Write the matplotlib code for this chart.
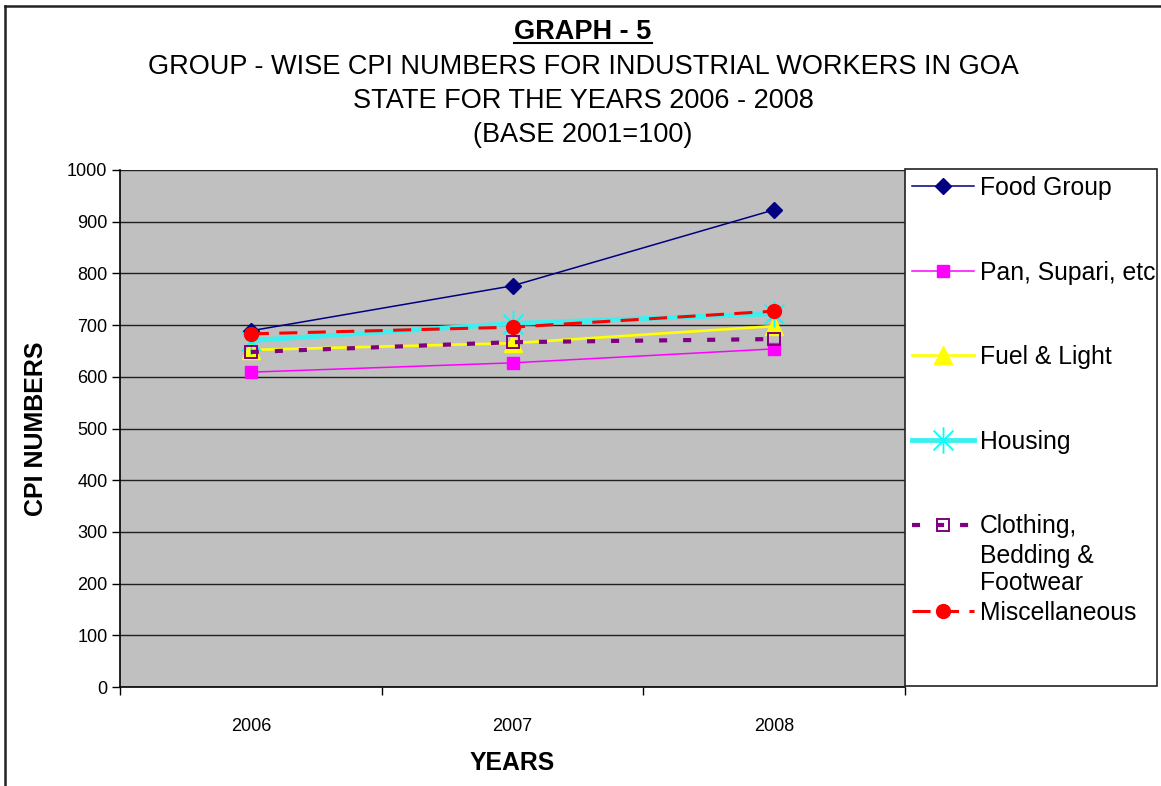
import matplotlib
matplotlib.use("Agg")
import matplotlib.pyplot as plt
from matplotlib.lines import Line2D
from matplotlib.patches import Rectangle
from matplotlib.path import Path

plt.rcParams['font.family'] = ['Liberation Sans', 'DejaVu Sans']
plt.rcParams['lines.scale_dashes'] = False

years = ['2006', '2007', '2008']
food = [689, 776, 923]
pan_supari = [609, 627, 654]
fuel_light = [652, 665, 698]
housing = [670, 703, 722]
clothing = [648, 667, 673]
misc = [683, 696, 727]

series_names = ['Food Group', 'Pan, Supari, etc', 'Fuel & Light', 'Housing',
                'Clothing,', 'Miscellaneous']
clothing_rest = 'Bedding &\nFootwear'

W, H = 1161, 786
fig = plt.figure(figsize=(W / 100, H / 100), dpi=100)

def fx(px):
    return px / W

def fy(py):
    return 1 - py / H

ax = fig.add_axes([fx(120), fy(687), fx(905) - fx(120), fy(170) - fy(687)])
ax.set_facecolor('#C0C0C0')

x = list(range(len(years)))

star = Path([(0, -1), (0, 1), (-0.75, -0.75), (0.75, 0.75), (-0.75, 0.75), (0.75, -0.75)],
            [Path.MOVETO, Path.LINETO, Path.MOVETO, Path.LINETO, Path.MOVETO, Path.LINETO])

h_food, = ax.plot(x, food, color='#000080', lw=1.1, marker='D', ms=7.8,
                  mfc='#000080', mec='#000080', zorder=3)
h_pan, = ax.plot(x, pan_supari, color='#FF00FF', lw=1.1, marker='s', ms=9,
                 mfc='#FF00FF', mec='#FF00FF', zorder=3)
h_fuel, = ax.plot(x, fuel_light, color='#FFFF00', lw=1.9, marker='^', ms=13,
                  mfc='#FFFF00', mec='#FFFF00', zorder=3)
h_house, = ax.plot(x, housing, color='#3CF0F0', lw=3.5, marker=star, ms=19,
                   mec='#00FFFF', mew=1.3, zorder=3)
h_cloth, = ax.plot(x, clothing, color='#800080', lw=3.0, dashes=(5.8, 11.5),
                   marker='s', ms=8.5, mfc='none', mec='#800080', mew=1.4, zorder=3)
h_misc, = ax.plot(x, misc, color='#FF0000', lw=2.2, dashes=(13, 7.5),
                  marker='o', ms=10, mfc='#FF0000', mec='#FF0000', zorder=3)

ax.set_xlim(-0.5, len(years) - 0.5)
ax.set_ylim(0, 1000)
ax.set_yticks(range(0, 1001, 100))
ax.yaxis.grid(True, color='#202020', lw=1.0)
ax.set_axisbelow(True)
ax.set_xticks([i - 0.5 for i in range(len(years) + 1)])
ax.set_xticklabels([])
ax.set_xticks(x, minor=True)
ax.set_xticklabels(years, minor=True)
ax.tick_params(axis='x', which='major', direction='out', length=6, width=1, color='black')
ax.tick_params(axis='x', which='minor', length=0, pad=22, labelsize=13)
ax.tick_params(axis='y', direction='out', length=6, width=1, labelsize=13, pad=3)
for s in ['top', 'right']:
    ax.spines[s].set_visible(False)
for s in ['left', 'bottom']:
    ax.spines[s].set_color('black')
    ax.spines[s].set_linewidth(1.2)

ax.set_xlabel('YEARS', fontsize=17.8, fontweight='bold', labelpad=12)
ax.set_ylabel('CPI NUMBERS', fontsize=18, fontweight='bold', labelpad=14)

# titles
TS = 19.5
t1 = fig.text(fx(583), fy(32), 'GRAPH - 5', ha='center', va='center',
              fontsize=TS, fontweight='bold')
fig.text(fx(583), fy(67), 'GROUP - WISE CPI NUMBERS FOR INDUSTRIAL WORKERS IN GOA',
         ha='center', va='center', fontsize=TS)
fig.text(fx(583), fy(101), 'STATE FOR THE YEARS 2006 - 2008', ha='center', va='center',
         fontsize=TS)
fig.text(fx(583), fy(135), '(BASE 2001=100)', ha='center', va='center', fontsize=TS)

# legend box
fig.patches.append(Rectangle((fx(905), fy(686)), fx(1157) - fx(905), fy(169) - fy(686),
                             transform=fig.transFigure, facecolor='white',
                             edgecolor='#222222', lw=1.2, zorder=0))

LS = 17.8
leg1 = fig.legend([h_food, h_pan, h_fuel, h_house, h_cloth], series_names[:5],
                  loc='upper left', bbox_to_anchor=(fx(912), fy(176)),
                  frameon=False, fontsize=LS, handlelength=2.5, handletextpad=0.25,
                  labelspacing=2.45, borderpad=0, borderaxespad=0)
leg2 = fig.legend([h_misc], series_names[5:], loc='upper left',
                  bbox_to_anchor=(fx(912), fy(601)), frameon=False, fontsize=LS,
                  handlelength=2.5, handletextpad=0.25, borderpad=0, borderaxespad=0)

# figure border (top/left visible)
fig.lines.append(Line2D([fx(5), fx(5)], [fy(6), -0.1], transform=fig.transFigure,
                        color='#222222', lw=1.8))
fig.lines.append(Line2D([fx(5), 1.1], [fy(6), fy(6)], transform=fig.transFigure,
                        color='#222222', lw=1.8))

fig.canvas.draw()
# underline of first title line
bb = t1.get_window_extent().transformed(fig.transFigure.inverted())
fig.lines.append(Line2D([bb.x0, bb.x1], [bb.y0 + 0.002, bb.y0 + 0.002],
                        transform=fig.transFigure, color='black', lw=1.5))
# continuation of the clothing label
cb = leg1.get_texts()[4].get_window_extent().transformed(fig.transFigure.inverted())
fig.text(cb.x0, fy(569.5), clothing_rest, ha='left', va='center', fontsize=LS,
         linespacing=1.2)

fig.savefig('out.png', dpi=100)
